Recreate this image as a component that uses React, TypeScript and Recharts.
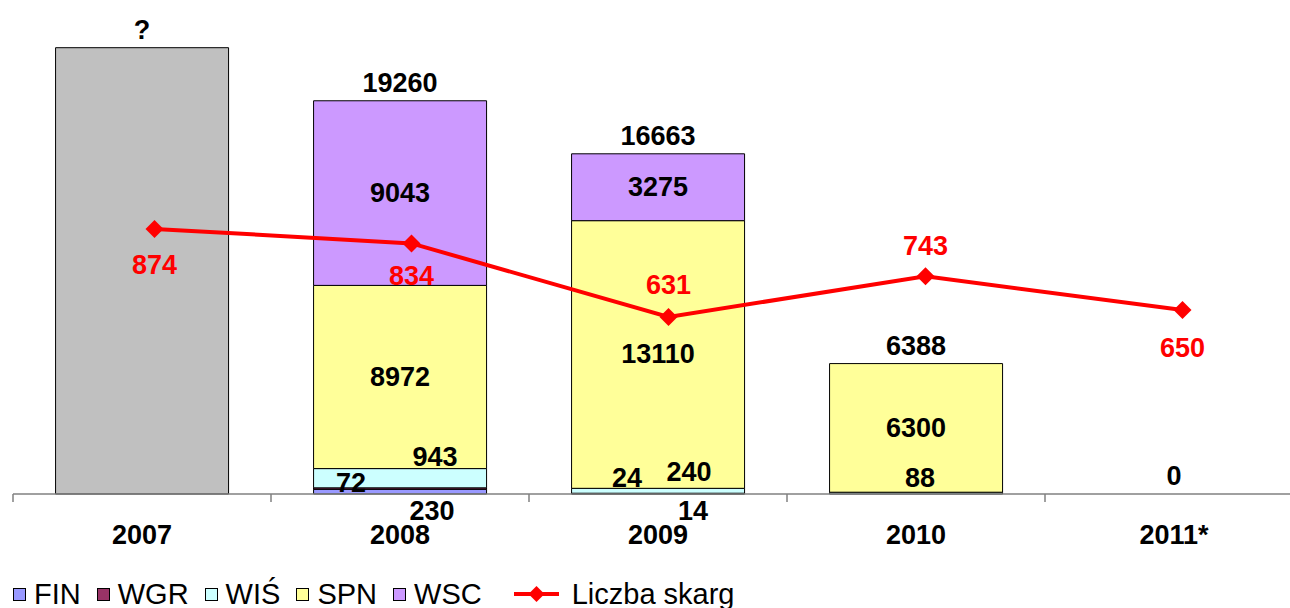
import React from "react";
import { ComposedChart, Bar, Line, XAxis, YAxis, LabelList, Legend } from "recharts";

const categories = ["2007", "2008", "2009", "2010", "2011*"];
const unknownVals = [21860, 0, 0, 0, 0];
const finVals = [0, 230, 14, 0, 0];
const wgrVals = [0, 72, 24, 0, 0];
const wisVals = [0, 943, 240, 88, 0];
const spnVals = [0, 8972, 13110, 6300, 0];
const wscVals = [0, 9043, 3275, 0, 0];
const totalLabels = ["?", "19260", "16663", "6388", "0"];
const skargiVals = [874, 834, 631, 743, 650];

// label offsets (dx, dy) in px relative to segment centres
const noOff = [[0, 0], [0, 0], [0, 0], [0, 0], [0, 0]];
const finOff = [[0, 0], [32, 19], [35, 17], [0, 0], [0, 0]];
const wgrOff = [[0, 0], [-49, -6], [-31, -15], [0, 0], [0, 0]];
const wisOff = [[0, 0], [35, -21], [31, -19], [4, -15], [0, 0]];
const lineLabelDy = [36, 33, -32, -30, 38];

const stackOrder = ["unknown", "FIN", "WGR", "WIS", "SPN", "WSC"];

const data = categories.map((c, i) => ({
  cat: c,
  unknown: unknownVals[i],
  FIN: finVals[i],
  WGR: wgrVals[i],
  WIS: wisVals[i],
  SPN: spnVals[i],
  WSC: wscVals[i],
  skargi: skargiVals[i],
}));

const segCentre = (key: string) => (d: any) => {
  let base = 0;
  for (const k of stackOrder) {
    if (k === key) return base + d[k] / 2;
    base += d[k];
  }
  return base;
};
const stackTop = (d: any) => stackOrder.reduce((s, k) => s + d[k], 0);

const FONT = "'Liberation Sans', Arial, sans-serif";
const FS = 27;

const segLabel = (vals: number[], offsets: number[][]) => (props: any) => {
  const { x, y, index } = props;
  const v = vals[index];
  if (!v) return null;
  const off = offsets[index];
  return (
    <text
      key={`l-${index}`}
      x={Number(x) + off[0]}
      y={Number(y) + off[1]}
      textAnchor="middle"
      dominantBaseline="central"
      fontFamily={FONT}
      fontWeight="bold"
      fontSize={FS}
      fill="#000"
    >
      {v}
    </text>
  );
};

const totalLabel = (props: any) => {
  const { x, y, index } = props;
  return (
    <text
      x={Number(x)}
      y={Number(y) - 18}
      textAnchor="middle"
      dominantBaseline="central"
      fontFamily={FONT}
      fontWeight="bold"
      fontSize={FS}
      fill="#000"
    >
      {totalLabels[index]}
    </text>
  );
};

const lineLabel = (props: any) => {
  const { x, y, index } = props;
  return (
    <text
      x={Number(x)}
      y={Number(y) + lineLabelDy[index]}
      textAnchor="middle"
      dominantBaseline="central"
      fontFamily={FONT}
      fontWeight="bold"
      fontSize={FS}
      fill="#FF0000"
    >
      {skargiVals[index]}
    </text>
  );
};

const Diamond = (props: any) => {
  const { cx, cy, index } = props;
  const r = 9;
  return (
    <path
      key={`d-${index}`}
      d={`M${cx},${cy - r}L${cx + r},${cy}L${cx},${cy + r}L${cx - r},${cy}Z`}
      fill="#FF0000"
    />
  );
};

const XTick = (props: any) => {
  const { x, y, payload, index } = props;
  const off = payload.offset || 0;
  return (
    <g>
      <line x1={x - off} x2={x - off} y1={y} y2={y + 8} stroke="#808080" strokeWidth={1.5} />
      {index === categories.length - 1 && (
        <line x1={x + off} x2={x + off} y1={y} y2={y + 8} stroke="#808080" strokeWidth={1.5} />
      )}
      <text
        x={x}
        y={y + 41}
        textAnchor="middle"
        dominantBaseline="central"
        fontFamily={FONT}
        fontWeight="bold"
        fontSize={FS}
        fill="#000"
      >
        {payload.value}
      </text>
    </g>
  );
};

const legendItems = [
  { name: "FIN", color: "#9999FF" },
  { name: "WGR", color: "#993366" },
  { name: "WIŚ", color: "#CCFFFF" },
  { name: "SPN", color: "#FFFF99" },
  { name: "WSC", color: "#CC99FF" },
];

const LegendContent = () => (
  <div
    style={{
      height: 30,
      boxSizing: "border-box",
      display: "flex",
      alignItems: "center",
      fontFamily: FONT,
      fontSize: 29,
      color: "#000",
      paddingLeft: 0,
      paddingTop: 2,
      lineHeight: "22px",
      overflow: "visible",
    }}
  >
    {legendItems.map((it) => (
      <div key={it.name} style={{ display: "flex", alignItems: "center", marginRight: 16 }}>
        <span
          style={{
            display: "inline-block",
            width: 11,
            height: 11,
            background: it.color,
            border: "1px solid #000",
            marginRight: 8,
          }}
        />
        <span>{it.name}</span>
      </div>
    ))}
    <div style={{ display: "flex", alignItems: "center", marginLeft: 16 }}>
      <svg width={45} height={20} style={{ marginRight: 13 }}>
        <line x1={0} x2={45} y1={10} y2={10} stroke="#FF0000" strokeWidth={4} />
        <path d="M22.5,2L30.5,10L22.5,18L14.5,10Z" fill="#FF0000" />
      </svg>
      <span>Liczba skarg</span>
    </div>
  </div>
);

const labelSeries: [string, number[], number[][]][] = [
  ["FIN", finVals, finOff],
  ["WGR", wgrVals, wgrOff],
  ["WIS", wisVals, wisOff],
  ["SPN", spnVals, noOff],
  ["WSC", wscVals, noOff],
];

export default function App() {
  return (
    <div
      style={{
        position: "absolute",
        left: 0,
        top: 0,
        width: 1290,
        height: 608,
        overflow: "hidden",
        background: "#fff",
      }}
    >
      <ComposedChart
        width={1320}
        height={608}
        data={data}
        margin={{ top: 4, left: 13, right: 9, bottom: 0 }}
        barCategoryGap="16.5%"
      >
        <XAxis
          dataKey="cat"
          xAxisId="main"
          padding={{ left: 0, right: 8 }}
          height={84}
          tickLine={false}
          tickSize={0}
          tickMargin={0}
          axisLine={{ stroke: "#808080", strokeWidth: 1.5 }}
          tick={<XTick />}
          interval={0}
        />
        <XAxis dataKey="cat" xAxisId="line" hide height={0} padding={{ left: 13, right: 0 }} />
        <YAxis yAxisId="left" hide domain={[0, 24000]} />
        <YAxis yAxisId="right" hide orientation="right" domain={[142, 1495]} />
        <Legend verticalAlign="bottom" content={<LegendContent />} />
        <Bar dataKey="unknown" stackId="a" xAxisId="main" yAxisId="left" fill="#C0C0C0" stroke="#000" strokeWidth={1} isAnimationActive={false} />
        <Bar dataKey="FIN" stackId="a" xAxisId="main" yAxisId="left" fill="#9999FF" stroke="#000" strokeWidth={1} isAnimationActive={false} />
        <Bar dataKey="WGR" stackId="a" xAxisId="main" yAxisId="left" fill="#993366" stroke="#000" strokeWidth={1} isAnimationActive={false} />
        <Bar dataKey="WIS" stackId="a" xAxisId="main" yAxisId="left" fill="#CCFFFF" stroke="#000" strokeWidth={1} isAnimationActive={false} />
        <Bar dataKey="SPN" stackId="a" xAxisId="main" yAxisId="left" fill="#FFFF99" stroke="#000" strokeWidth={1} isAnimationActive={false} />
        <Bar dataKey="WSC" stackId="a" xAxisId="main" yAxisId="left" fill="#CC99FF" stroke="#000" strokeWidth={1} isAnimationActive={false} />
        {labelSeries.map(([key, vals, offs]) => (
          <Line
            key={`lab-${key}`}
            dataKey={segCentre(key)}
            xAxisId="main"
            yAxisId="left"
            stroke="none"
            dot={false}
            activeDot={false}
            legendType="none"
            isAnimationActive={false}
          >
            <LabelList content={segLabel(vals, offs)} />
          </Line>
        ))}
        <Line
          dataKey={stackTop}
          xAxisId="main"
          yAxisId="left"
          stroke="none"
          dot={false}
          activeDot={false}
          legendType="none"
          isAnimationActive={false}
        >
          <LabelList content={totalLabel} />
        </Line>
        <Line
          dataKey="skargi"
          xAxisId="line"
          yAxisId="right"
          stroke="#FF0000"
          strokeWidth={4}
          dot={<Diamond />}
          activeDot={false}
          isAnimationActive={false}
        >
          <LabelList content={lineLabel} />
        </Line>
      </ComposedChart>
    </div>
  );
}
